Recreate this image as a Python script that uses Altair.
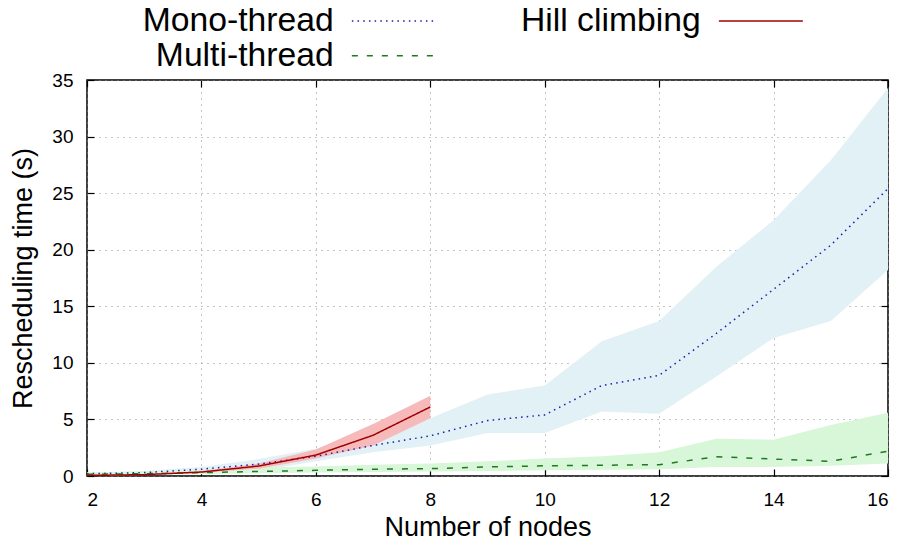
import altair as alt
import pandas as pd

# ---- data ----
nodes = [2, 3, 4, 5, 6, 7, 8, 9, 10, 11, 12, 13, 14, 15, 16]
mono_mean = [0.2, 0.3, 0.6, 1.05, 1.75, 2.7, 3.55, 4.9, 5.4, 8.0, 8.9, 12.6, 16.5, 20.4, 25.4]
mono_lo = [0.05, 0.1, 0.25, 0.45, 1.3, 2.1, 2.7, 3.8, 3.8, 5.7, 5.5, 8.8, 12.2, 13.7, 18.2]
mono_hi = [0.3, 0.45, 0.8, 1.5, 2.4, 4.0, 5.1, 7.2, 8.0, 11.9, 13.7, 18.5, 22.6, 27.9, 34.3]
multi_mean = [0.15, 0.2, 0.3, 0.4, 0.5, 0.6, 0.65, 0.8, 0.9, 0.95, 1.0, 1.7, 1.5, 1.3, 2.2]
multi_lo = [0.05, 0.1, 0.15, 0.25, 0.3, 0.35, 0.4, 0.45, 0.5, 0.55, 0.6, 0.8, 0.8, 0.9, 1.1]
multi_hi = [0.3, 0.4, 0.55, 0.75, 0.85, 1.0, 1.1, 1.3, 1.55, 1.75, 2.1, 3.3, 3.2, 4.5, 5.6]
hill_nodes = [2, 3, 4, 5, 6, 7, 8]
hill_mean = [0.05, 0.12, 0.35, 0.88, 1.85, 3.6, 6.1]
hill_lo = [0.02, 0.08, 0.28, 0.65, 1.55, 2.7, 5.1]
hill_hi = [0.1, 0.18, 0.45, 1.1, 2.35, 4.6, 7.1]

series_order = ["Mono-thread", "Multi-thread", "Hill climbing"]
line_colors = ["#1c1caa", "#1e7a1e", "#a00000"]
band_colors = {"Mono-thread": "#e2f1f6", "Multi-thread": "#d8f6d8", "Hill climbing": "#f6baba"}
dashes = [[1.5, 4.2], [6, 9], [1, 0]]
x_ticks = [2, 4, 6, 8, 10, 12, 14, 16]
y_ticks = [0, 5, 10, 15, 20, 25, 30, 35]


def frame(name, xs, mean, lo, hi):
    return pd.DataFrame({"nodes": xs, "series": name, "mean": mean, "lo": lo, "hi": hi})


df = pd.concat([
    frame("Mono-thread", nodes, mono_mean, mono_lo, mono_hi),
    frame("Multi-thread", nodes, multi_mean, multi_lo, multi_hi),
    frame("Hill climbing", hill_nodes, hill_mean, hill_lo, hill_hi),
], ignore_index=True)

FONT = "Liberation Sans"
xscale = alt.Scale(domain=[2, 16], nice=False, zero=False)
yscale = alt.Scale(domain=[0, 35], nice=False)

base = alt.Chart(df)

main_x_axis = alt.Axis(values=x_ticks, title="Number of nodes", grid=True,
                       tickSize={"expr": "-7"}, labelPadding=21, titlePadding=5)
main_y_axis = alt.Axis(values=y_ticks, title="Rescheduling time (s)", grid=True,
                       tickSize={"expr": "-7"}, labelPadding=21, titlePadding=14)


def band(name):
    return base.transform_filter(alt.datum.series == name).mark_area(
        opacity=1, fill=band_colors[name]
    ).encode(
        x=alt.X("nodes:Q", scale=xscale, axis=None),
        y=alt.Y("lo:Q", scale=yscale, axis=None),
        y2="hi:Q",
    )


# wide, flat legend sample line: 3 units each side of centre, 28px unit size -> 84px
legend = alt.Legend(
    orient="none", legendX=290, legendY=-76, columns=2,
    columnPadding=81, rowPadding=0, padding=0,
    symbolType="M-3,0H3", symbolSize=784, symbolStrokeWidth=1.5,
    labelFont=FONT, labelFontSize=33.7, labelAlign="right", labelOffset={"expr": "-77"},
    labelLimit=400, labelColor="black",
)

lines = base.mark_line(strokeWidth=1.5).encode(
    x=alt.X("nodes:Q", scale=xscale, axis=main_x_axis),
    y=alt.Y("mean:Q", scale=yscale, axis=main_y_axis),
    color=alt.Color("series:N", title=None, scale=alt.Scale(domain=series_order, range=line_colors),
                    legend=legend),
    strokeDash=alt.StrokeDash("series:N", title=None, scale=alt.Scale(domain=series_order, range=dashes),
                              legend=legend),
)

mirror = base.mark_point(opacity=0).encode(
    x=alt.X("nodes:Q", scale=xscale,
            axis=alt.Axis(orient="top", values=x_ticks, labels=False, title=None, grid=False,
                          tickSize={"expr": "-7"})),
    y=alt.Y("mean:Q", scale=yscale,
            axis=alt.Axis(orient="right", values=y_ticks, labels=False, title=None, grid=False,
                          tickSize={"expr": "-7"})),
)

chart = alt.layer(
    band("Mono-thread"), band("Multi-thread"), band("Hill climbing"), lines, mirror
).resolve_axis(x="independent", y="independent").properties(
    width=801, height=396,
    autosize=alt.AutoSizeParams(type="none"),
    padding={"left": 79, "top": 72, "right": 6, "bottom": 64},
).configure_view(
    stroke="black", strokeWidth=1.5
).configure_axis(
    labelFont=FONT, labelFontSize=19, labelColor="black",
    titleFont=FONT, titleFontSize=27, titleFontWeight="normal", titleColor="black",
    tickColor="black", tickWidth=1.2, domain=False,
    gridColor="#8a8a8a", gridDash=[1, 5], gridWidth=1,
)

chart.save("out.html", embed_options={"renderer": "svg", "actions": False})
